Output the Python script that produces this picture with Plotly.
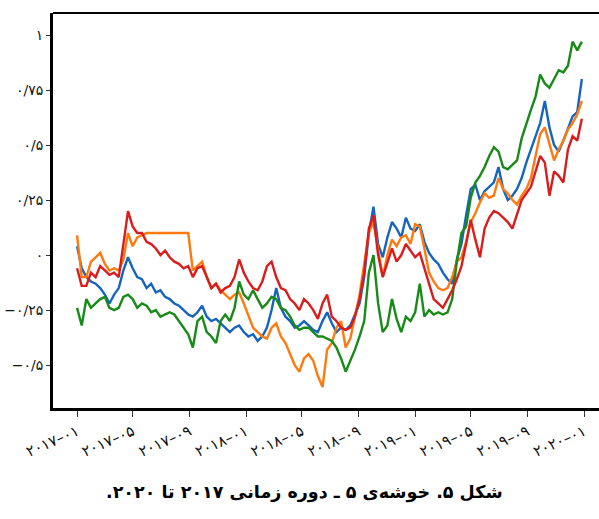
import pandas as pd
import plotly.graph_objects as go

# sampling dates (every 10 days)
dates = pd.date_range("2017-01-01", periods=110, freq="10D")

blue = [0.04, -0.06, -0.10, -0.12, -0.13, -0.15, -0.18, -0.22, -0.18, -0.15,
        -0.07, -0.01, -0.06, -0.10, -0.11, -0.15, -0.13, -0.17, -0.16, -0.19,
        -0.20, -0.22, -0.23, -0.25, -0.27, -0.28, -0.26, -0.23, -0.28, -0.30,
        -0.29, -0.31, -0.33, -0.35, -0.33, -0.32, -0.35, -0.37, -0.36, -0.39,
        -0.37, -0.33, -0.25, -0.15, -0.24, -0.28, -0.30, -0.33, -0.32, -0.30,
        -0.32, -0.34, -0.35, -0.30, -0.26, -0.31, -0.35, -0.33, -0.34, -0.32,
        -0.27, -0.22, -0.10, 0.10, 0.22, 0.05, -0.01, 0.08, 0.15, 0.12,
        0.08, 0.17, 0.12, 0.11, 0.14, 0.06, 0.01, -0.02, -0.04, -0.08,
        -0.11, -0.13, -0.02, 0.05, 0.18, 0.30, 0.32, 0.25, 0.29, 0.31,
        0.33, 0.40, 0.30, 0.25, 0.27, 0.30, 0.35, 0.42, 0.48, 0.53,
        0.60, 0.70, 0.58, 0.50, 0.47, 0.52, 0.58, 0.63, 0.65, 0.80]

orange = [0.09, -0.10, -0.10, -0.03, -0.01, 0.01, -0.04, -0.07, -0.06, -0.07,
          -0.02, 0.10, 0.04, 0.08, 0.09, 0.10, 0.10, 0.10, 0.10, 0.10,
          0.10, 0.10, 0.10, 0.10, 0.10, -0.07, -0.05, -0.03, -0.10, -0.15,
          -0.13, -0.16, -0.18, -0.20, -0.18, -0.17, -0.22, -0.28, -0.33, -0.35,
          -0.37, -0.38, -0.33, -0.31, -0.37, -0.40, -0.45, -0.50, -0.53, -0.47,
          -0.45, -0.48, -0.55, -0.60, -0.43, -0.40, -0.33, -0.30, -0.42, -0.38,
          -0.28, -0.18, -0.04, 0.10, 0.15, 0.03, -0.10, 0.00, 0.07, 0.04,
          0.08, 0.09, 0.05, 0.14, 0.13, 0.03, -0.08, -0.12, -0.15, -0.16,
          -0.15, -0.10, -0.03, -0.01, 0.06, 0.15, 0.19, 0.24, 0.28, 0.26,
          0.27, 0.35, 0.30, 0.28, 0.25, 0.23, 0.27, 0.30, 0.35, 0.45,
          0.55, 0.58, 0.50, 0.43, 0.48, 0.52, 0.57, 0.60, 0.64, 0.70]

green = [-0.24, -0.32, -0.20, -0.24, -0.22, -0.20, -0.19, -0.24, -0.25, -0.24,
         -0.19, -0.18, -0.20, -0.24, -0.22, -0.23, -0.26, -0.25, -0.28, -0.27,
         -0.26, -0.27, -0.30, -0.33, -0.36, -0.42, -0.30, -0.28, -0.35, -0.37,
         -0.40, -0.30, -0.27, -0.30, -0.24, -0.12, -0.18, -0.20, -0.16, -0.20,
         -0.24, -0.22, -0.19, -0.20, -0.24, -0.25, -0.28, -0.32, -0.34, -0.33,
         -0.33, -0.35, -0.37, -0.37, -0.38, -0.39, -0.42, -0.47, -0.53, -0.48,
         -0.43, -0.37, -0.30, -0.08, 0.00, -0.22, -0.35, -0.32, -0.20, -0.29,
         -0.35, -0.28, -0.30, -0.26, -0.13, -0.28, -0.25, -0.27, -0.26, -0.27,
         -0.26, -0.20, -0.03, 0.10, 0.13, 0.26, 0.33, 0.36, 0.40, 0.45,
         0.49, 0.47, 0.40, 0.39, 0.41, 0.43, 0.53, 0.60, 0.66, 0.72,
         0.82, 0.78, 0.76, 0.80, 0.84, 0.83, 0.86, 0.97, 0.93, 0.97]

red = [-0.06, -0.14, -0.14, -0.08, -0.10, -0.05, -0.07, -0.09, -0.08, -0.10,
       0.05, 0.20, 0.13, 0.10, 0.10, 0.06, 0.05, 0.03, 0.00, 0.02,
       -0.01, -0.03, -0.04, -0.06, -0.05, -0.10, -0.06, -0.05, -0.10, -0.15,
       -0.13, -0.17, -0.15, -0.14, -0.10, -0.02, -0.08, -0.12, -0.15, -0.16,
       -0.12, -0.05, -0.03, -0.10, -0.15, -0.16, -0.20, -0.22, -0.25, -0.20,
       -0.22, -0.25, -0.29, -0.22, -0.18, -0.28, -0.30, -0.33, -0.34, -0.33,
       -0.28, -0.20, -0.08, 0.12, 0.18, 0.00, -0.10, -0.04, 0.03, -0.03,
       0.00, 0.05, 0.02, -0.01, 0.01, -0.06, -0.14, -0.20, -0.22, -0.24,
       -0.20, -0.16, -0.11, -0.05, 0.05, 0.16, 0.07, -0.01, 0.12, 0.17,
       0.20, 0.19, 0.17, 0.15, 0.12, 0.18, 0.25, 0.28, 0.31, 0.38,
       0.45, 0.42, 0.27, 0.38, 0.36, 0.33, 0.48, 0.54, 0.52, 0.62]

x_tick_vals = ["2017-01-01", "2017-05-01", "2017-09-01", "2018-01-01", "2018-05-01",
               "2018-09-01", "2019-01-01", "2019-05-01", "2019-09-01", "2020-01-01"]
x_tick_text = ["۲۰۱۷–۰۱", "۲۰۱۷–۰۵", "۲۰۱۷–۰۹", "۲۰۱۸–۰۱", "۲۰۱۸–۰۵",
               "۲۰۱۸–۰۹", "۲۰۱۹–۰۱", "۲۰۱۹–۰۵", "۲۰۱۹–۰۹", "۲۰۲۰–۰۱"]
y_tick_vals = [-0.5, -0.25, 0, 0.25, 0.5, 0.75, 1]
y_tick_text = ["−۰/۵", "−۰/۲۵", "۰", "۰/۲۵", "۰/۵", "۰/۷۵", "۱"]

caption = "\u202bشکل ۵. خوشه‌ی ۵ ـ دوره زمانی ۲۰۱۷ تا ۲۰۲۰.\u202c"

series = [("blue", blue, "#1565c0"), ("orange", orange, "#ff7a0e"),
          ("green", green, "#178a17"), ("red", red, "#d91c1c")]

fig = go.Figure()
for name, vals, col in series:
    fig.add_trace(go.Scatter(x=dates, y=vals, mode="lines", name=name,
                             line=dict(color=col, width=2.4)))

font_family = "DejaVu Sans"
fig.update_layout(
    width=599, height=519,
    margin=dict(l=53, r=0, t=13, b=111),
    paper_bgcolor="white", plot_bgcolor="white",
    showlegend=False,
    font=dict(family=font_family, color="#111"),
    xaxis=dict(range=["2016-11-10", "2020-02-02"], tickvals=x_tick_vals,
               ticktext=x_tick_text, tickangle=-24, showgrid=False, zeroline=False,
               showline=True, linecolor="black", linewidth=3,
               ticks="outside", ticklen=6, tickwidth=1, tickcolor="#333",
               tickfont=dict(size=15, family=font_family)),
    yaxis=dict(range=[-0.695, 1.1], tickvals=y_tick_vals, ticktext=y_tick_text,
               showgrid=False, zeroline=False, showline=True, linecolor="black",
               linewidth=3, ticks="outside", ticklen=4, tickwidth=1, tickcolor="#333",
               tickfont=dict(size=14, family=font_family)),
    shapes=[dict(type="line", xref="paper", yref="paper", x0=0, x1=1, y0=1, y1=1,
                 line=dict(color="black", width=2))],
    annotations=[dict(text=caption, xref="paper", yref="paper", x=0.46, y=-0.215,
                      showarrow=False, xanchor="center", yanchor="middle",
                      font=dict(size=17.5, family=font_family, color="black",
                                weight="bold"))],
)

fig.write_html("out.html")
